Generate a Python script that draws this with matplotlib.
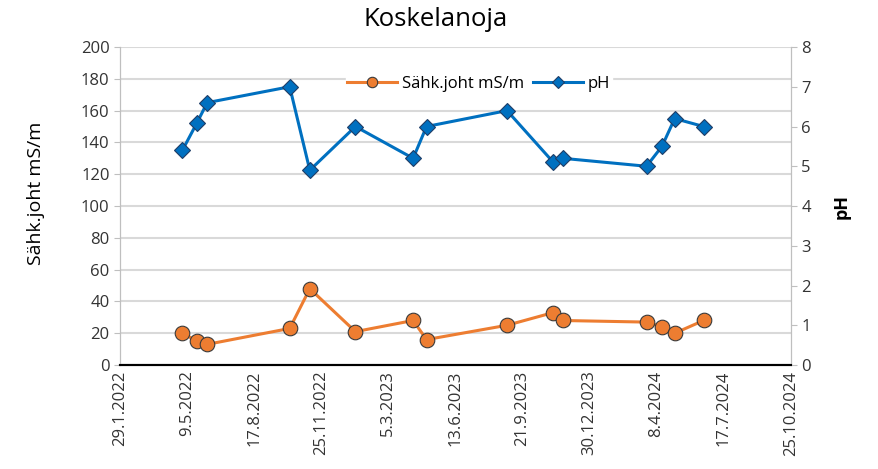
import pandas as pd
import matplotlib.pyplot as plt
from matplotlib.lines import Line2D

plt.rcParams['font.family'] = ['Open Sans', 'DejaVu Sans']

dates = ['2.5.2022', '24.5.2022', '8.6.2022', '9.10.2022', '8.11.2022',
         '15.1.2023', '11.4.2023', '1.5.2023', '29.8.2023', '6.11.2023',
         '20.11.2023', '24.3.2024', '16.4.2024', '5.5.2024', '17.6.2024']
cond = [20, 15, 13, 23, 48, 21, 28, 16, 25, 33, 28, 27, 24, 20, 28]
ph = [5.4, 6.1, 6.6, 7.0, 4.9, 6.0, 5.2, 6.0, 6.4, 5.1, 5.2, 5.0, 5.5, 6.2, 6.0]

x_start = '29.1.2022'
x_end = '25.10.2024'

df = pd.DataFrame({'date': pd.to_datetime(dates, format='%d.%m.%Y'),
                   'cond': cond, 'ph': ph})
x0 = pd.to_datetime(x_start, format='%d.%m.%Y')
x1 = pd.to_datetime(x_end, format='%d.%m.%Y')

orange = '#ED7D31'
blue = '#0070C0'
grid_c = '#D9D9D9'

fig = plt.figure(figsize=(8.79, 4.69), dpi=100)
ax = fig.add_axes([0.1365, 0.2217, 0.7631, 0.6781])
ax2 = ax.twinx()

ax.plot(df['date'], df['cond'], color=orange, lw=2.2, marker='o', ms=10.5,
        mfc=orange, mec='#3a3a3a', mew=0.8, zorder=3)
ax2.plot(df['date'], df['ph'], color=blue, lw=2.2, marker='D', ms=8.5,
         mfc=blue, mec='#1f3d66', mew=0.8, zorder=3)

ax.set_xlim(x0, x1)
ax.set_ylim(0, 200)
ax2.set_ylim(0, 8)
ax.set_yticks(range(0, 201, 20))
ax2.set_yticks(range(0, 9))

ticks = pd.date_range(x0, x1, freq='100D')
ax.set_xticks(ticks)
ax.set_xticklabels([f'{t.day}.{t.month}.{t.year}' for t in ticks], rotation=90)

ax.grid(axis='y', color=grid_c, lw=1.5)
ax.set_axisbelow(True)
for a in (ax, ax2):
    a.spines['top'].set_visible(False)
    a.spines['left'].set_color('#BFBFBF')
    a.spines['right'].set_color('#BFBFBF')
    a.spines['bottom'].set_color('black')
    a.spines['bottom'].set_linewidth(1.5)
    a.tick_params(labelsize=12, colors='#333333', length=4)
    a.tick_params(axis='y', color='#BFBFBF')
ax.tick_params(axis='x', length=0, pad=4)

ax.set_ylabel('Sähk.joht mS/m', fontsize=14)
ax.yaxis.set_label_coords(-0.112, 0.54)
ax2.set_ylabel('pH', fontsize=13, fontweight='bold', labelpad=16)
fig.suptitle('Koskelanoja', fontsize=18.5, x=0.496, y=0.985)

handles = [Line2D([], [], color=orange, lw=2.2, marker='o', ms=7.5, mfc=orange, mec='#3a3a3a', mew=0.8),
           Line2D([], [], color=blue, lw=2.2, marker='D', ms=6, mfc=blue, mec='#1f3d66', mew=0.8)]
leg = ax2.legend(handles, ['Sähk.joht mS/m', 'pH'], loc='upper center',
                 bbox_to_anchor=(0.535, 0.915), ncol=2, frameon=True, fontsize=12,
                 handlelength=3, columnspacing=0.5, handletextpad=0.3,
                 borderpad=0.1, borderaxespad=0)
leg.get_frame().set_facecolor('white')
leg.get_frame().set_edgecolor('white')
leg.get_frame().set_alpha(1)

plt.savefig('out.png', dpi=100)
